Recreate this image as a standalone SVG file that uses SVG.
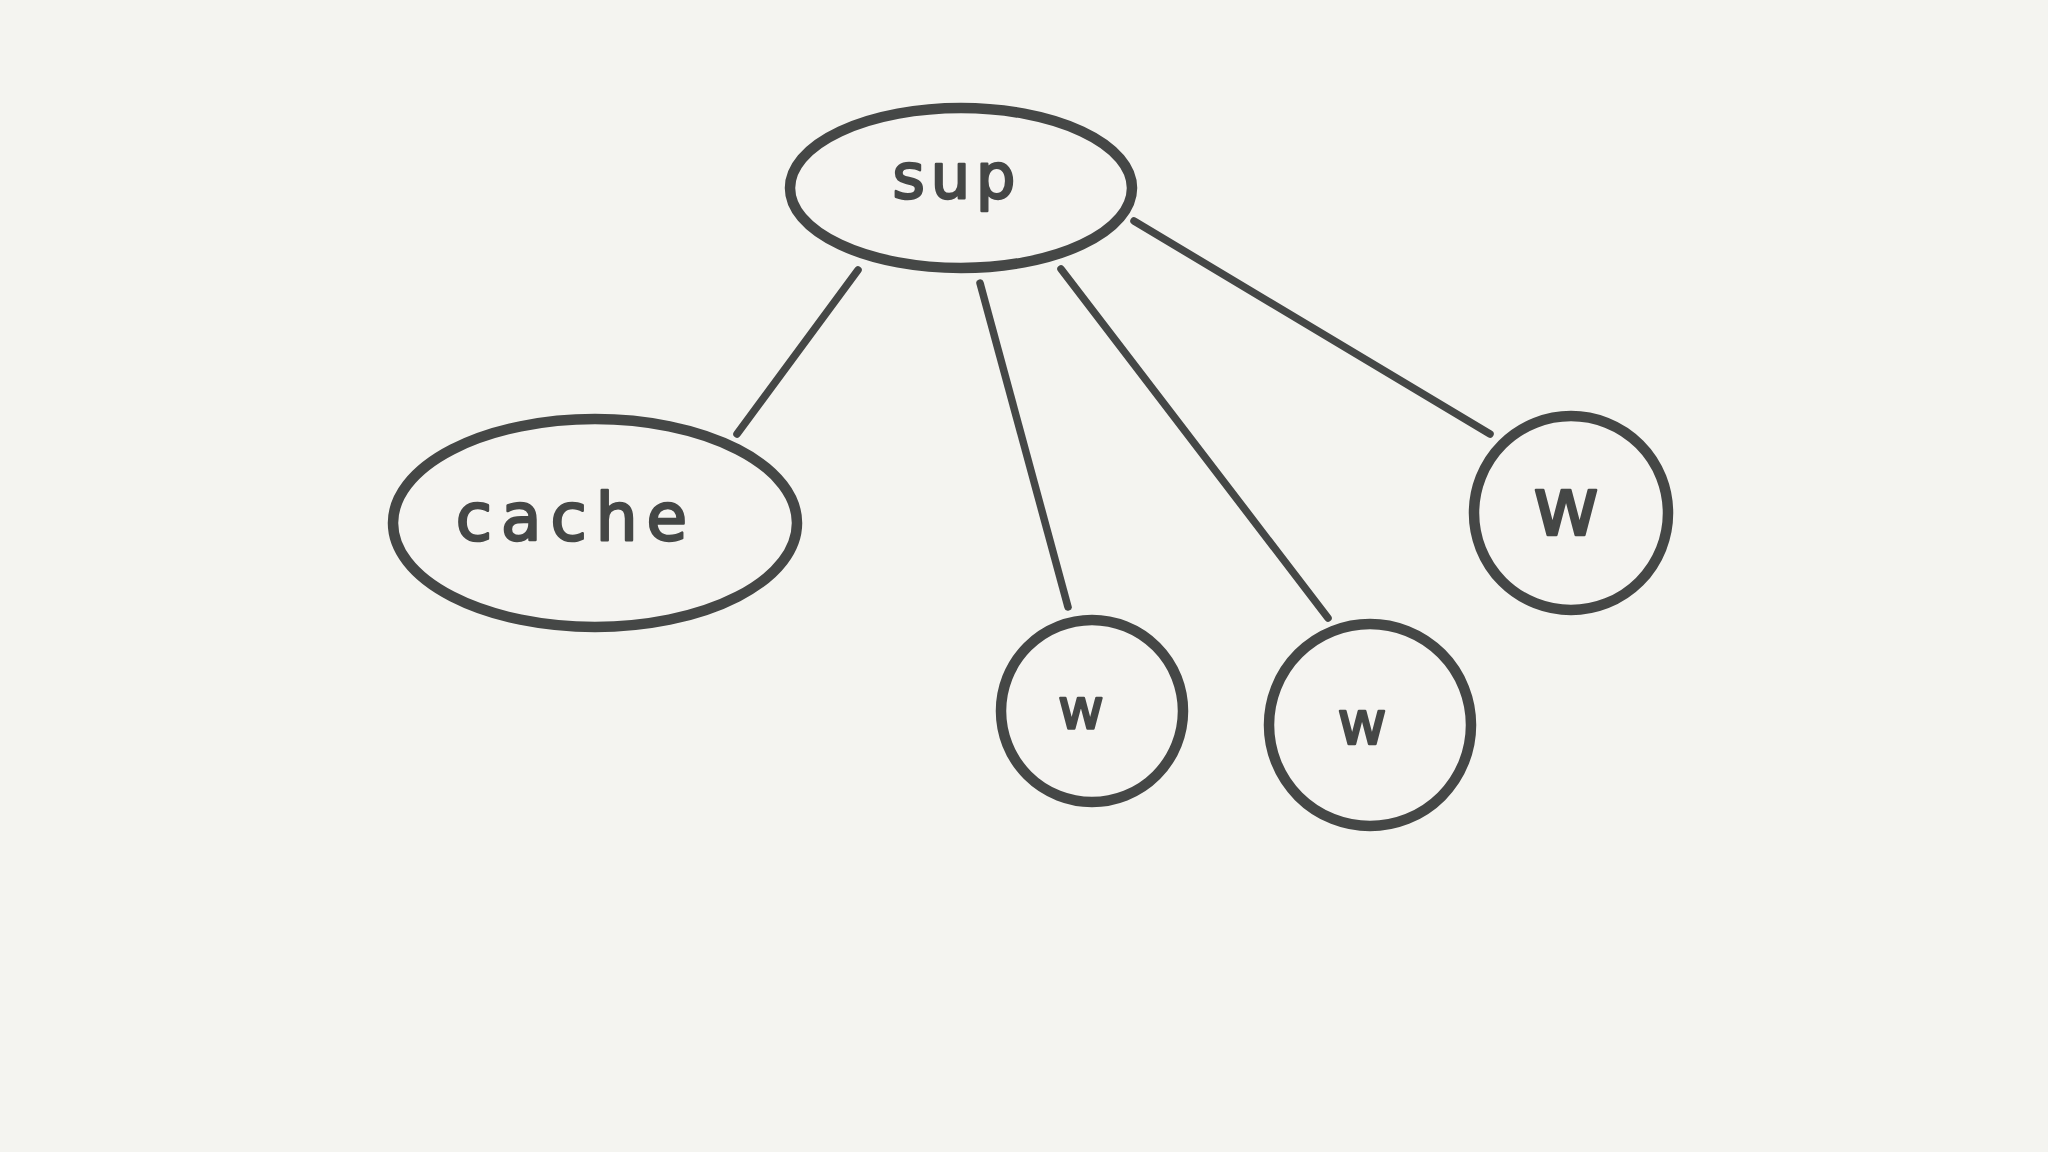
<svg xmlns="http://www.w3.org/2000/svg" width="2048" height="1152" viewBox="0 0 2048 1152">
<style>
.shape{fill:#f5f4f1;stroke:#454746;stroke-width:10.5}
.edge{stroke:#454746;stroke-width:7.5;stroke-linecap:round;fill:none}
.lbl{font-family:"DejaVu Sans","Liberation Sans",sans-serif;fill:#454746;stroke:#454746;stroke-width:2.5;stroke-linejoin:round;text-anchor:middle}
</style>
<rect width="2048" height="1152" fill="#f4f4f0"/>
<g id="connectors">
<line class="edge" x1="858" y1="270" x2="737" y2="434"/>
<line class="edge" x1="980" y1="283" x2="1068" y2="607"/>
<line class="edge" x1="1061" y1="269" x2="1328" y2="618"/>
<line class="edge" x1="1134" y1="221" x2="1490" y2="434"/>
</g>
<g id="sup">
<ellipse class="shape" cx="961" cy="188" rx="171" ry="80"/>
<text class="lbl" x="957" y="198" font-size="62" letter-spacing="6">sup</text>
</g>
<g id="cache">
<ellipse class="shape" cx="595" cy="523" rx="202" ry="104"/>
<text class="lbl" x="576" y="540" font-size="66" letter-spacing="9">cache</text>
</g>
<g id="w1">
<circle class="shape" cx="1092" cy="711" r="91"/>
<text class="lbl" x="1081" y="728" font-size="56">w</text>
</g>
<g id="w2">
<circle class="shape" cx="1370" cy="725" r="101"/>
<text class="lbl" x="1362" y="744" font-size="60">w</text>
</g>
<g id="w3">
<circle class="shape" cx="1571" cy="513" r="97"/>
<text class="lbl" x="1566" y="535" font-size="82">w</text>
</g>
</svg>
